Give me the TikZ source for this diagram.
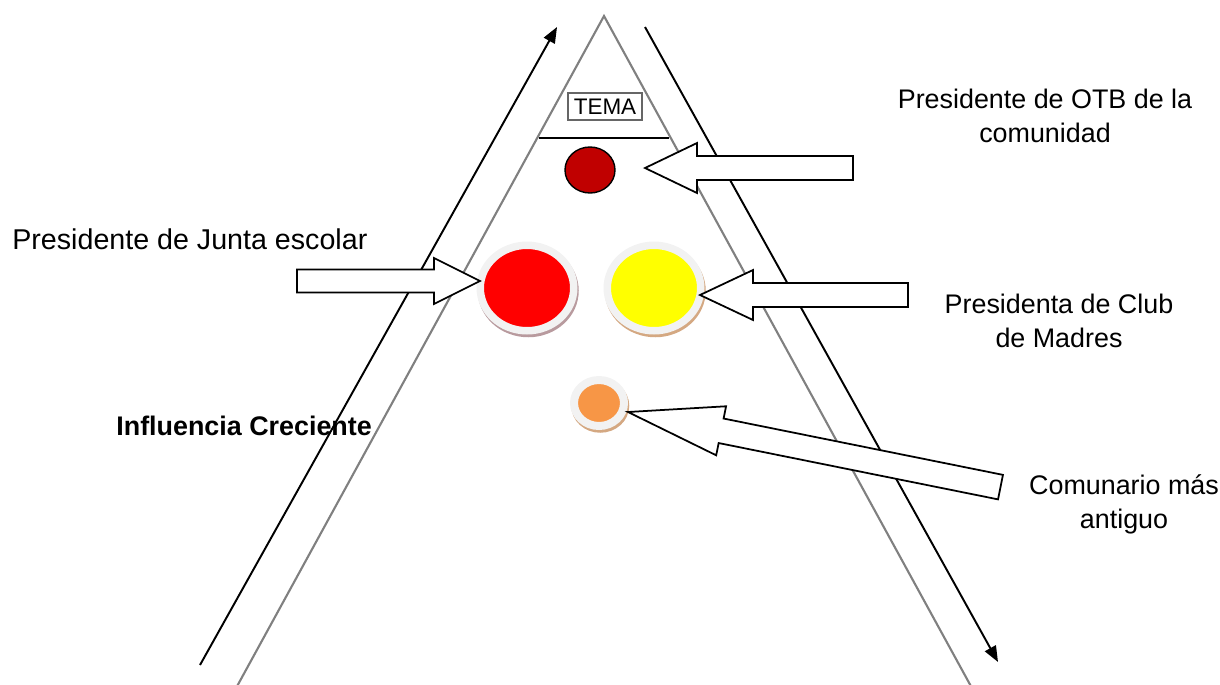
\documentclass[tikz,border=0pt]{standalone}
\usepackage{fontspec}
\setmainfont{Liberation Sans}
\usetikzlibrary{arrows.meta,shapes.geometric,positioning}

\definecolor{darkred}{HTML}{C00000}
\definecolor{puryellow}{HTML}{FFFF00}
\definecolor{ringgray}{HTML}{F2F2F2}
\definecolor{orangedot}{HTML}{F79646}
\definecolor{redshadow}{HTML}{B89A9E}
\definecolor{tanshadow}{HTML}{D4A882}
\definecolor{linegray}{HTML}{808080}

\tikzset{
  labeltext/.style={font=\fontsize{15.3}{19.3}\selectfont, inner sep=0pt, align=center},
  disc/.style 2 args={ellipse, inner sep=0pt, fill=#1, draw=ringgray, line width=0.15cm,
    preaction={draw=#2, fill=#2, transform canvas={xshift=0.025cm, yshift=-0.055cm}}},
  blockarrow/.style={draw=black, fill=white, line width=1pt, line join=miter},
  longarrow/.style={line width=1.1pt, -{Triangle[length=9pt,width=7pt]}},
}

% tip, angle, length, head length, head half width, shaft half width
\newcommand{\blockarrow}[6]{%
  \draw[blockarrow, shift={(#1)}, rotate=#2] (0,0) -- (#4,-#5) -- (#4,-#6) -- (#3,-#6)
    -- (#3,#6) -- (#4,#6) -- (#4,#5) -- cycle;}

\begin{document}
\begin{tikzpicture}[x=0.02cm, y=-0.02cm]
    \clip (0,0) rectangle (1220,684); % page

    \draw[linegray, line width=1.2pt] (235,690) -- (604,16) -- (973,690); % triangle
    \draw[line width=0.9pt] (539,138) -- (669,138); % line under the topic
    \node[draw=gray!80!black, line width=1pt, inner sep=0pt, minimum width=1.48cm, minimum height=0.54cm,
      font=\fontsize{12.8}{14}\selectfont] (tema) at (605,106.5) {TEMA};

    % actors
    \node[ellipse, fill=darkred, draw=black, line width=0.8pt, inner sep=0pt,
      minimum width=1cm, minimum height=0.92cm] (otbdot) at (590,170) {};
    \node[disc={red}{redshadow}, minimum width=1.87cm, minimum height=1.71cm] (juntadot) at (527,288) {};
    \node[disc={puryellow}{tanshadow}, minimum width=1.87cm, minimum height=1.71cm] (clubdot) at (654,288) {};
    \node[disc={orangedot}{tanshadow}, line width=0.16cm, minimum width=1cm, minimum height=0.92cm] (comdot) at (599,403) {};

    % labels
    \node[labeltext] (otb) at (1045,116) {Presidente de OTB de la\\comunidad};
    \node[labeltext, font=\fontsize{16.3}{19.3}\selectfont, anchor=west] (junta) at (12,239) {Presidente de Junta escolar};
    \node[labeltext] (club) at (1059,321) {Presidenta de Club\\de Madres};
    \node[labeltext, font=\fontsize{15.3}{19.3}\selectfont\bfseries, anchor=west] (influencia) at (116,426) {Influencia Creciente};
    \node[labeltext] (comunario) at (1124,504) {Comunario más\\antiguo};

    \draw[longarrow] (200,665) -- (557,27); % rising influence
    \draw[longarrow] (645,27) -- (998,662);

    \coordinate (tipotb) at (645,168);
    \coordinate (tipjunta) at (480,281);
    \coordinate (tipclub) at (700,295);
    \coordinate (tipcom) at (628,412);
    \blockarrow{tipotb}{0}{208}{52}{25}{12}
    \blockarrow{tipjunta}{180}{183}{46}{23}{11.5}
    \blockarrow{tipclub}{0}{208}{53}{25}{12}
    \blockarrow{tipcom}{-11.4}{380}{95}{25}{12.5}
\end{tikzpicture}
\end{document}
